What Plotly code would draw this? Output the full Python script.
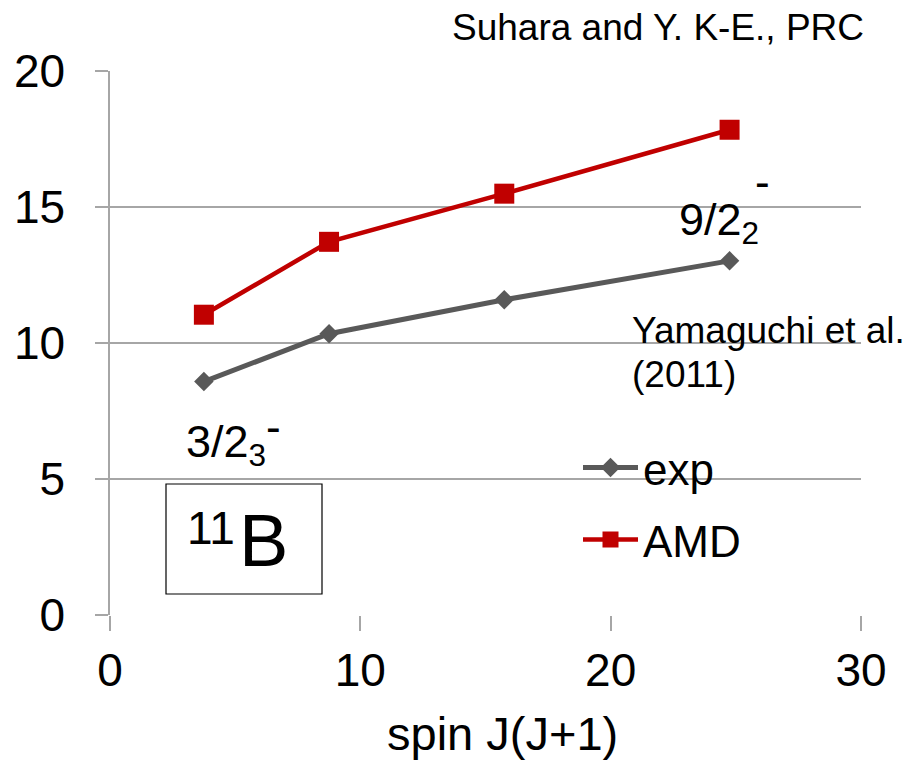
import plotly.graph_objects as go

# spin values J(J+1) for J = 3/2, 5/2, 7/2, 9/2
spin = [3.75, 8.75, 15.75, 24.75]
exp_energy = [8.58, 10.34, 11.59, 13.02]
amd_energy = [11.04, 13.72, 15.49, 17.84]

x_ticks = [0, 10, 20, 30]
y_ticks = [0, 5, 10, 15, 20]

FONT = "Liberation Sans, Arial, sans-serif"
GRID = "#A6A6A6"

W, H = 909, 762
L, R, T, B = 110, 48, 71, 147
PW, PH = W - L - R, H - T - B


def px(xp):
    return (xp - L) / PW


def py(yp):
    return (H - B - yp) / PH


fig = go.Figure()
fig.add_trace(go.Scatter(
    x=spin, y=exp_energy, name="exp", mode="lines+markers",
    line=dict(color="#595959", width=5),
    marker=dict(symbol="diamond", size=15, color="#595959"),
    legend="legend",
))
fig.add_trace(go.Scatter(
    x=spin, y=amd_energy, name="AMD", mode="lines+markers",
    line=dict(color="#C00000", width=4.5),
    marker=dict(symbol="square", size=20, color="#C00000"),
    legend="legend2",
))

leg_common = dict(
    font=dict(family=FONT, size=44, color="black"),
    bgcolor="rgba(0,0,0,0)", borderwidth=0, itemwidth=55,
    xanchor="left", yanchor="middle",
)
fig.update_layout(
    width=W, height=H,
    margin=dict(l=L, r=R, t=T, b=B, autoexpand=False),
    paper_bgcolor="white", plot_bgcolor="white",
    font=dict(family=FONT, color="black"),
    showlegend=True,
    legend=dict(x=px(578), y=py(468), **leg_common),
    legend2=dict(x=px(578), y=py(540), **leg_common),
    xaxis=dict(
        range=[0, 30], tickvals=x_ticks, ticktext=[str(v) for v in x_ticks],
        showgrid=False, zeroline=False, automargin=False,
        showline=False, ticks="outside", ticklen=15, tickwidth=1.5,
        tickcolor=GRID, tickfont=dict(family=FONT, size=46, color="black"),
        ticklabelstandoff=0,
    ),
    yaxis=dict(
        range=[0, 20], tickvals=y_ticks, ticktext=[str(v) for v in y_ticks],
        showgrid=True, gridcolor=GRID, gridwidth=2, automargin=False,
        zeroline=False, showline=True, linecolor=GRID, linewidth=1.5,
        ticks="outside", ticklen=13, tickwidth=2, tickcolor=GRID,
        tickfont=dict(family=FONT, size=46, color="black"),
        ticklabelstandoff=21,
    ),
)

annotations = [
    dict(text="Suhara and Y. K-E., PRC", x=px(866), y=py(5), xanchor="right",
         yanchor="top", font=dict(size=37)),
    dict(text="spin J(J+1)", x=px(502), y=py(705), xanchor="center",
         yanchor="top", font=dict(size=47)),
    dict(text="Yamaguchi et al.", x=px(630), y=py(308), xanchor="left",
         yanchor="top", font=dict(size=37)),
    dict(text="(2011)", x=px(630), y=py(352), xanchor="left",
         yanchor="top", font=dict(size=37)),
    dict(text="3/2<sub>3</sub>", x=px(184), y=py(414), xanchor="left",
         yanchor="top", font=dict(size=45)),
    dict(text="-", x=px(264), y=py(400), xanchor="left",
         yanchor="top", font=dict(size=44)),
    dict(text="9/2<sub>2</sub>", x=px(677), y=py(192), xanchor="left",
         yanchor="top", font=dict(size=45)),
    dict(text="-", x=px(753), y=py(155), xanchor="left",
         yanchor="top", font=dict(size=44)),
    dict(text="11", x=px(185), y=py(500), xanchor="left",
         yanchor="top", font=dict(size=46)),
    dict(text="B", x=px(237), y=py(497), xanchor="left",
         yanchor="top", font=dict(size=74)),
]
for a in annotations:
    a.update(xref="paper", yref="paper", showarrow=False)
    a["font"] = dict(family=FONT, color="black", **a["font"])
    fig.add_annotation(**a)

fig.add_shape(type="rect", xref="paper", yref="paper",
              x0=px(166), x1=px(322), y0=py(594), y1=py(484),
              line=dict(color="black", width=1.2), fillcolor="rgba(0,0,0,0)")

fig.write_html("out.html")
